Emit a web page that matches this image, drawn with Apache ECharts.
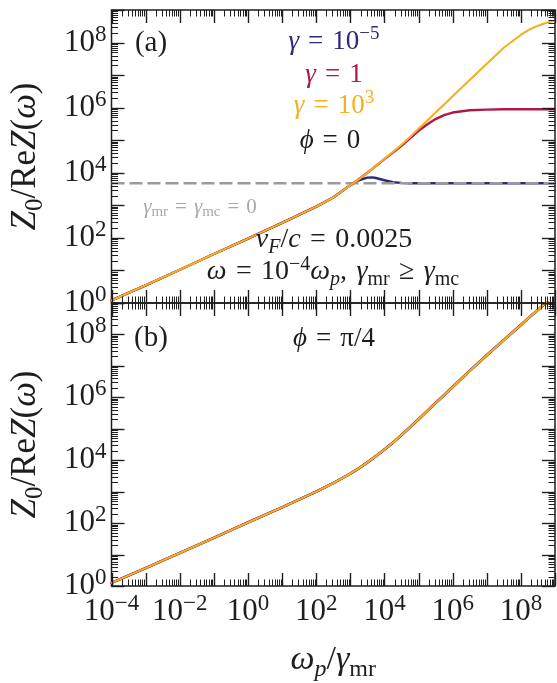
<!DOCTYPE html>
<html>
<head>
<meta charset="utf-8">
<script src="https://cdn.jsdelivr.net/npm/echarts@6/dist/echarts.min.js"></script>
<style>
  html, body { margin: 0; padding: 0; background: #ffffff; }
  #chart { width: 557px; height: 683px; }
</style>
</head>
<body>
<div id="chart"></div>
<script>
// ---- data -------------------------------------------------------------
// ω_p / γ_mr sample points shared by every curve
const omegaRatio = [1e-4, 1e-3, 1e-2, 1e-1, 1, 10, 100, 316, 1000, 1780, 3160, 4470, 5620,
  1e4, 1.78e4, 3.16e4, 5.62e4, 1e5, 1.78e5, 3.16e5, 5.62e5, 1e6, 3.16e6, 1e7, 3.16e7,
  1e8, 1.78e8, 3.16e8, 5.62e8, 1e9];

// panel (a): φ = 0, Z0 / Re Z(ω)
const phi0Gamma1em5 = [1.2, 3.5, 10.5, 32, 95, 290, 912, 1740, 4170, 5890, 7080, 7240, 6920,
  5890, 5130, 4900, 4790, 4790, 4790, 4790, 4790, 4790, 4790, 4790, 4790,
  4790, 4790, 4790, 4790, 4790];
const phi0Gamma1 = [1.2, 3.5, 10.5, 32, 95, 290, 912, 1740, 4170, 6310, 1.0e4, 1.32e4, 1.62e4,
  2.63e4, 4.17e4, 6.76e4, 1.15e5, 1.95e5, 3.02e5, 4.47e5, 5.89e5, 7.08e5, 8.32e5, 8.71e5, 8.91e5,
  8.91e5, 8.91e5, 8.91e5, 8.91e5, 8.91e5];
const phi0Gamma1e3 = [1.2, 3.5, 10.5, 32, 95, 290, 912, 1740, 4170, 6310, 1.0e4, 1.32e4, 1.62e4,
  2.69e4, 4.37e4, 7.24e4, 1.26e5, 2.24e5, 3.98e5, 7.08e5, 1.26e6, 2.24e6, 7.08e6, 2.24e7, 6.92e7,
  1.74e8, 2.51e8, 3.31e8, 4.07e8, 4.79e8];
// γ_mr = γ_mc = 0 reference level
const noDampingX = [1e-4, 1e9];
const noDampingY = [4790, 4790];

// panel (b): φ = π/4, the three γ curves coincide
const phiQuarterGamma = [1.26, 3.7, 11.2, 34, 105, 316, 1000, 1860, 3720, 5500, 8510, 1.12e4, 1.35e4,
  2.19e4, 3.63e4, 6.31e4, 1.12e5, 2.0e5, 3.63e5, 6.61e5, 1.17e6, 2.14e6, 6.92e6, 2.19e7, 6.61e7,
  2.0e8, 3.55e8, 6.03e8, 1.05e9, 1.86e9];

// labelled decades (exponents of 10)
const xTickExponents = [-4, -2, 0, 2, 4, 6, 8];
const yTickExponents = [0, 2, 4, 6, 8];

// ---- style ------------------------------------------------------------
const FONT = "'Liberation Serif', 'DejaVu Serif', serif";
const NAVY = '#2c2a7c';
const CRIMSON = '#b0184a';
const GOLD = '#f5b01e';
const INK = '#1e1e1e';
const SP = '\u2004'; // wider math space around relations
const xMin = 1e-4, xMax = 1e9, yMin = 1, yMax = 1e9;

// rich-text tokens for math; key is 'fill' for graphic/custom text, 'color' for axis names
function mathRich(size, color, key, supScale) {
  const c = {}; c[key] = color;
  const lh = Math.round(size * 1.25);
  const small = Math.round(size * (supScale || 0.7));
  const sl = Math.round(size * 0.72);
  return {
    it:   Object.assign({ fontFamily: FONT, fontSize: size, fontStyle: 'italic', lineHeight: lh, verticalAlign: 'middle' }, c),
    rm:   Object.assign({ fontFamily: FONT, fontSize: size, lineHeight: lh, verticalAlign: 'middle' }, c),
    sup:  Object.assign({ fontFamily: FONT, fontSize: small, lineHeight: sl, verticalAlign: 'top' }, c),
    sub:  Object.assign({ fontFamily: FONT, fontSize: small, lineHeight: sl, verticalAlign: 'bottom' }, c),
    subi: Object.assign({ fontFamily: FONT, fontSize: small, fontStyle: 'italic', lineHeight: sl, verticalAlign: 'bottom' }, c)
  };
}

function powerText(e) {
  return '{rm|10}{sup|' + (e < 0 ? '\u2212' + (-e) : e) + '}';
}

// tick marks (inward on all four sides) plus the decade labels
function buildTicks(withXLabels) {
  const items = [];
  for (let e = -4; e <= 9; e++) {
    const v = Math.pow(10, e);
    const lab = withXLabels && xTickExponents.indexOf(e) >= 0 ? 1 : 0;
    items.push([v, yMin, 0, 1, lab, e]);
    if (e < 9) for (let k = 2; k <= 9; k++) items.push([k * v, yMin, 0, 0, 0, e]);
  }
  for (let e = 0; e <= 9; e++) {
    const v = Math.pow(10, e);
    const lab = yTickExponents.indexOf(e) >= 0 ? 1 : 0;
    items.push([xMin, v, 1, 1, lab, e]);
    if (e < 9) for (let k = 2; k <= 9; k++) items.push([xMin, k * v, 1, 0, 0, e]);
  }
  return items;
}

const tickRich = mathRich(31, INK, 'fill', 0.74);
const px = v => Math.round(v) + 0.5;

function renderTicks(params, api) {
  const kind = api.value(2), major = api.value(3), labelled = api.value(4), e = api.value(5);
  const len = major ? 13 : 6.5;
  const st = { stroke: INK, lineWidth: major ? 1.4 : 1 };
  const out = [];
  if (kind === 0) {
    const v = api.value(0);
    const b = api.coord([v, yMin]), t = api.coord([v, yMax]);
    const x = px(b[0]);
    out.push({ type: 'line', shape: { x1: x, y1: b[1], x2: x, y2: b[1] - len }, style: st });
    out.push({ type: 'line', shape: { x1: x, y1: t[1], x2: x, y2: t[1] + len }, style: st });
    if (labelled) {
      out.push({ type: 'text', style: { text: powerText(e), rich: tickRich, x: b[0], y: b[1] + 6,
        align: 'center', verticalAlign: 'top', fill: INK } });
    }
  } else {
    const v = api.value(1);
    const l = api.coord([xMin, v]), r = api.coord([xMax, v]);
    const y = px(l[1]);
    out.push({ type: 'line', shape: { x1: l[0], y1: y, x2: l[0] + len, y2: y }, style: st });
    out.push({ type: 'line', shape: { x1: r[0], y1: y, x2: r[0] - len, y2: y }, style: st });
    if (labelled) {
      out.push({ type: 'text', style: { text: powerText(e), rich: tickRich, x: l[0] - 5, y: l[1],
        align: 'right', verticalAlign: 'middle', fill: INK } });
    }
  }
  return { type: 'group', children: out };
}

const pairs = arr => omegaRatio.map((x, i) => [x, arr[i]]);

function curve(name, data, color, width, z, gi) {
  return {
    name: name, type: 'line', xAxisIndex: gi, yAxisIndex: gi, data: data,
    showSymbol: false, symbol: 'none', smooth: false,
    lineStyle: { color: color, width: width, join: 'round', cap: 'round' }, z: z, silent: true
  };
}

const yName = '{it|Z}{sub|0}{rm|/Re}{it|Z}{rm|(}{it|ω}{rm|)}';
const xName = '{it|ω}{subi|p}{rm|/}{it|γ}{sub|mr}';

function logAxis(min, max, gi, extra) {
  return Object.assign({
    type: 'log', logBase: 10, min: min, max: max, gridIndex: gi,
    axisLine: { show: false }, axisTick: { show: false },
    axisLabel: { show: false }, splitLine: { show: false }, minorTick: { show: false }
  }, extra || {});
}

const yAxisName = {
  name: yName, nameLocation: 'middle', nameRotate: 90, nameGap: 64,
  nameTextStyle: { rich: mathRich(35, INK, 'color') }
};

function annot(x, y, text, size, color) {
  return { type: 'text', x: x, y: y, silent: true, z: 50,
    style: { text: text, rich: mathRich(size, color, 'fill'), align: 'center', verticalAlign: 'middle', fill: color } };
}

const option = {
  animation: false,
  backgroundColor: '#ffffff',
  grid: [
    { left: 111, top: 10, width: 444, height: 293, show: true, borderColor: INK, borderWidth: 1.5, backgroundColor: 'transparent' },
    { left: 111, top: 303, width: 444, height: 299, show: true, borderColor: INK, borderWidth: 1.5, backgroundColor: 'transparent' }
  ],
  xAxis: [
    logAxis(xMin, xMax, 0),
    logAxis(xMin, xMax, 1, { name: xName, nameLocation: 'middle', nameGap: 53,
      nameTextStyle: { rich: mathRich(34, INK, 'color') } })
  ],
  yAxis: [
    logAxis(yMin, yMax, 0, yAxisName),
    logAxis(yMin, yMax, 1, yAxisName)
  ],
  series: [
    curve('γ = 1e-5', pairs(phi0Gamma1em5), NAVY, 2.4, 2, 0),
    {
      name: 'γmr = γmc = 0', type: 'line', xAxisIndex: 0, yAxisIndex: 0,
      data: noDampingX.map((x, i) => [x, noDampingY[i]]),
      showSymbol: false, symbol: 'none', silent: true, z: 3,
      lineStyle: { color: '#9a9a9a', width: 2.6, type: [13, 5] }
    },
    curve('γ = 1', pairs(phi0Gamma1), CRIMSON, 2.4, 4, 0),
    curve('γ = 1e3', pairs(phi0Gamma1e3), GOLD, 2.1, 5, 0),
    curve('γ = 1e-5 (b)', pairs(phiQuarterGamma), NAVY, 2.6, 2, 1),
    curve('γ = 1 (b)', pairs(phiQuarterGamma), CRIMSON, 2.4, 3, 1),
    curve('γ = 1e3 (b)', pairs(phiQuarterGamma), GOLD, 2.1, 4, 1),
    { type: 'custom', xAxisIndex: 0, yAxisIndex: 0, data: buildTicks(false), renderItem: renderTicks,
      encode: { x: 0, y: 1 }, silent: true, z: 10, clip: false },
    { type: 'custom', xAxisIndex: 1, yAxisIndex: 1, data: buildTicks(true), renderItem: renderTicks,
      encode: { x: 0, y: 1 }, silent: true, z: 10, clip: false }
  ],
  graphic: [
    annot(151, 43, '{rm|(a)}', 29, INK),
    annot(334, 42, '{it|γ}{rm|' + SP + '=' + SP + '10}{sup|\u22125}', 27, NAVY),
    annot(334, 75, '{it|γ}{rm|' + SP + '=' + SP + '1}', 27, CRIMSON),
    annot(334, 106, '{it|γ}{rm|' + SP + '=' + SP + '10}{sup|3}', 27, GOLD),
    annot(330, 141, '{it|ϕ}{rm|' + SP + '=' + SP + '0}', 27, INK),
    annot(200, 207, '{it|γ}{sub|mr}{rm|' + SP + '=' + SP + '}{it|γ}{sub|mc}{rm|' + SP + '=' + SP + '0}', 21, '#a8a8a8'),
    annot(334, 240, '{it|v}{subi|F}{rm|/}{it|c}{rm|' + SP + '=' + SP + '0.0025}', 28, INK),
    annot(333, 272, '{it|ω}{rm|' + SP + '=' + SP + '10}{sup|\u22124}{it|ω}{subi|p}{rm|,' + SP + '}{it|γ}{sub|mr}{rm|' + SP + '≥' + SP + '}{it|γ}{sub|mc}', 28, INK),
    annot(151, 338, '{rm|(b)}', 29, INK),
    annot(334, 339, '{it|ϕ}{rm|' + SP + '=' + SP + 'π/4}', 27, INK)
  ]
};

const chart = echarts.init(document.getElementById('chart'), null, { renderer: 'canvas' });
chart.setOption(option);
</script>
</body>
</html>
